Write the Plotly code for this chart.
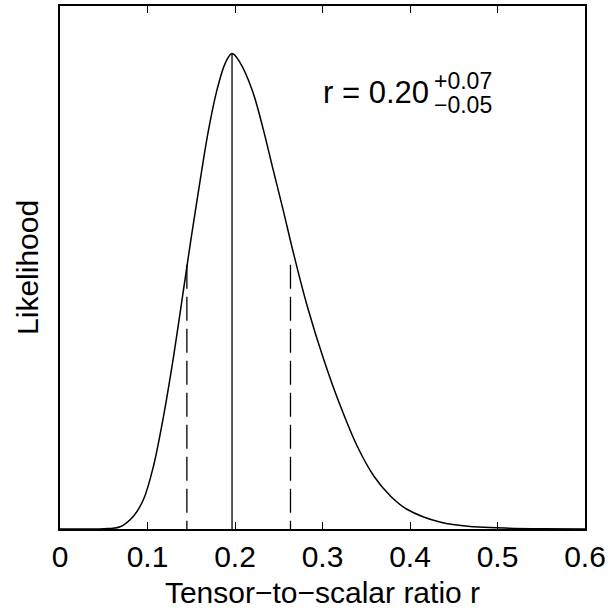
import numpy as np
import plotly.graph_objects as go

# Likelihood curve
r_vals = [0.0, 0.04, 0.055, 0.0687, 0.0839, 0.0954, 0.1068, 0.1183, 0.1298, 0.1412,
          0.1508, 0.1603, 0.1698, 0.1795, 0.1889, 0.1966, 0.2061, 0.2195, 0.2310,
          0.2430, 0.2545, 0.2671, 0.2825, 0.3015, 0.3206, 0.3397, 0.3588, 0.3779,
          0.3970, 0.4351, 0.4733, 0.508, 0.55, 0.6]
likelihood = [0.0, 0.0, 0.0008, 0.0046, 0.027, 0.062, 0.132, 0.237, 0.363, 0.504,
              0.623, 0.735, 0.840, 0.924, 0.980, 1.0, 0.980, 0.924, 0.850,
              0.760, 0.675, 0.578, 0.469, 0.356, 0.258, 0.174, 0.111, 0.069,
              0.041, 0.014, 0.0046, 0.002, 0.0005, 0.0]

r_best = 0.1966
r_low = 0.145
r_high = 0.2634
interval_height = 0.556

x_ticks = [0, 0.1, 0.2, 0.3, 0.4, 0.5, 0.6]
x_tick_labels = ["0", "0.1", "0.2", "0.3", "0.4", "0.5", "0.6"]

FONT = "Liberation Sans, Arial, Helvetica, sans-serif"

fig = go.Figure()
fig.add_trace(go.Scatter(x=r_vals, y=likelihood, mode="lines",
                         line=dict(color="black", width=1.5, shape="spline", smoothing=1.0),
                         showlegend=False, hoverinfo="skip"))

h_best = float(np.interp(r_best, r_vals, likelihood))

fig.add_trace(go.Scatter(x=[r_best, r_best], y=[0, h_best], mode="lines",
                         line=dict(color="black", width=1.3), showlegend=False, hoverinfo="skip"))
for rv in [r_low, r_high]:
    fig.add_trace(go.Scatter(x=[rv, rv], y=[interval_height, 0], mode="lines",
                             line=dict(color="black", width=1.3, dash="24px,8px"),
                             showlegend=False, hoverinfo="skip"))

fig.update_layout(
    width=608, height=616,
    margin=dict(l=60, r=23, t=6, b=87),
    paper_bgcolor="white", plot_bgcolor="white",
    font=dict(family=FONT, color="black", size=30),
    xaxis=dict(range=[0, 0.6], tickvals=x_ticks, ticktext=x_tick_labels,
               ticks="inside", ticklen=7, tickwidth=1, tickcolor="black",
               showline=True, linecolor="black", linewidth=1.5, mirror="ticks",
               showgrid=False, zeroline=False, automargin=False,
               tickfont=dict(size=30, family=FONT, color="black"),
               title=dict(text="Tensor−to−scalar ratio r", standoff=10,
                          font=dict(size=30, family=FONT, color="black"))),
    yaxis=dict(range=[0, 1.10], showticklabels=False, ticks="",
               showline=True, linecolor="black", linewidth=1.5, mirror=True,
               showgrid=False, zeroline=False, automargin=False),
    annotations=[
        dict(text="Likelihood", xref="paper", yref="paper", x=-0.062, y=0.5,
             textangle=-90, showarrow=False, xanchor="center", yanchor="middle",
             font=dict(size=30, family=FONT, color="black")),
        dict(text="r = 0.20", xref="paper", yref="paper", x=0.706, y=0.834,
             showarrow=False, xanchor="right", yanchor="middle",
             font=dict(size=31, family=FONT, color="black")),
        dict(text="+0.07", xref="paper", yref="paper", x=0.708, y=0.857,
             showarrow=False, xanchor="left", yanchor="middle",
             font=dict(size=23, family=FONT, color="black")),
        dict(text="−0.05", xref="paper", yref="paper", x=0.708, y=0.811,
             showarrow=False, xanchor="left", yanchor="middle",
             font=dict(size=23, family=FONT, color="black")),
    ],
)

fig.write_html("out.html",
               config={"displayModeBar": False},
               post_script="document.body.style.margin='0';document.body.style.overflow='hidden';")
